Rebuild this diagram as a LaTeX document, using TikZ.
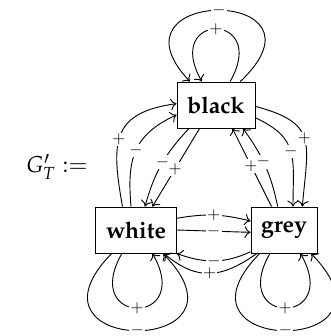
\documentclass[tikz,border=0pt]{standalone}
\usepackage[T1]{fontenc}
\usepackage{mathpazo}
\usetikzlibrary{arrows.meta}
\begin{document}
\begin{tikzpicture}[x=0.435pt,y=0.435pt,
    >={Computer Modern Rightarrow[length=2.6pt,width=5pt]},
    state/.style={draw, font=\bfseries, minimum height=20pt, inner sep=0pt},
    sgn/.style={fill=white, inner sep=0.5pt, font=\scriptsize}]
  \useasboundingbox (0,0) rectangle (330,-336);

  % the three colour classes
  \node[state, minimum width=33.9pt] (B) at (216,-105) {black};
  \node[state, minimum width=35.2pt] (W) at (136,-230) {white};
  \node[state, minimum width=28.7pt] (G) at (284,-230) {grey};
  \node (lhs) at (57,-167) {$G'_T :=$};

  % loops
  \draw[->] (B.44) .. controls +(100,95) and +(-90,95) .. node[sgn]{$-$} (B.138);
  \draw[->] (B.59) .. controls +(40,70) and +(-40,70) .. node[sgn]{$+$} (B.121);
  \draw[->] (W.224) .. controls +(-101,-103) and +(101,-103) .. node[sgn]{$-$} (W.-41);
  \draw[->] (W.239) .. controls +(-42,-73) and +(42,-73) .. node[sgn]{$+$} (W.-55);
  \draw[->] (G.224) .. controls +(-101,-103) and +(101,-103) .. node[sgn]{$-$} (G.-41);
  \draw[->] (G.239) .. controls +(-42,-73) and +(42,-73) .. node[sgn]{$+$} (G.-55);

  % white <-> black
  \draw[->] (W.120) to[out=100, in=188, looseness=1.45] node[sgn, pos=.45]{$+$} (B.178);
  \draw[->] (W.102) to[out=95, in=205, looseness=1.2] node[sgn]{$-$} (B.194);
  \draw[->] (B.221) to[bend right=14] node[sgn, pos=.47]{$-$} (W.69);
  \draw[->] (B.235) -- node[sgn, pos=.52]{$+$} (W.55);

  % black <-> grey
  \draw[->] (B.-2) to[out=-15, in=85, looseness=1.5] node[sgn]{$+$} (G.52);
  \draw[->] (B.-18) to[out=-25, in=90, looseness=1.3] node[sgn]{$-$} (G.69);
  \draw[->] (G.118) -- node[sgn, pos=.52]{$+$} (B.-55);
  \draw[->] (G.105) to[bend right=12] node[sgn, pos=.55]{$-$} (B.-41);

  % white <-> grey
  \draw[->] (W.16) to[bend left=12] node[sgn]{$+$} (G.165);
  \draw[->] (W.0) -- node[sgn]{$-$} (G.184);
  \draw[->] (G.213) to[out=205, in=-20] node[sgn]{$-$} (W.-30);
  \draw[->] (G.221) to[out=215, in=-40, looseness=1.2] node[sgn]{$+$} (W.-40);
\end{tikzpicture}
\end{document}
